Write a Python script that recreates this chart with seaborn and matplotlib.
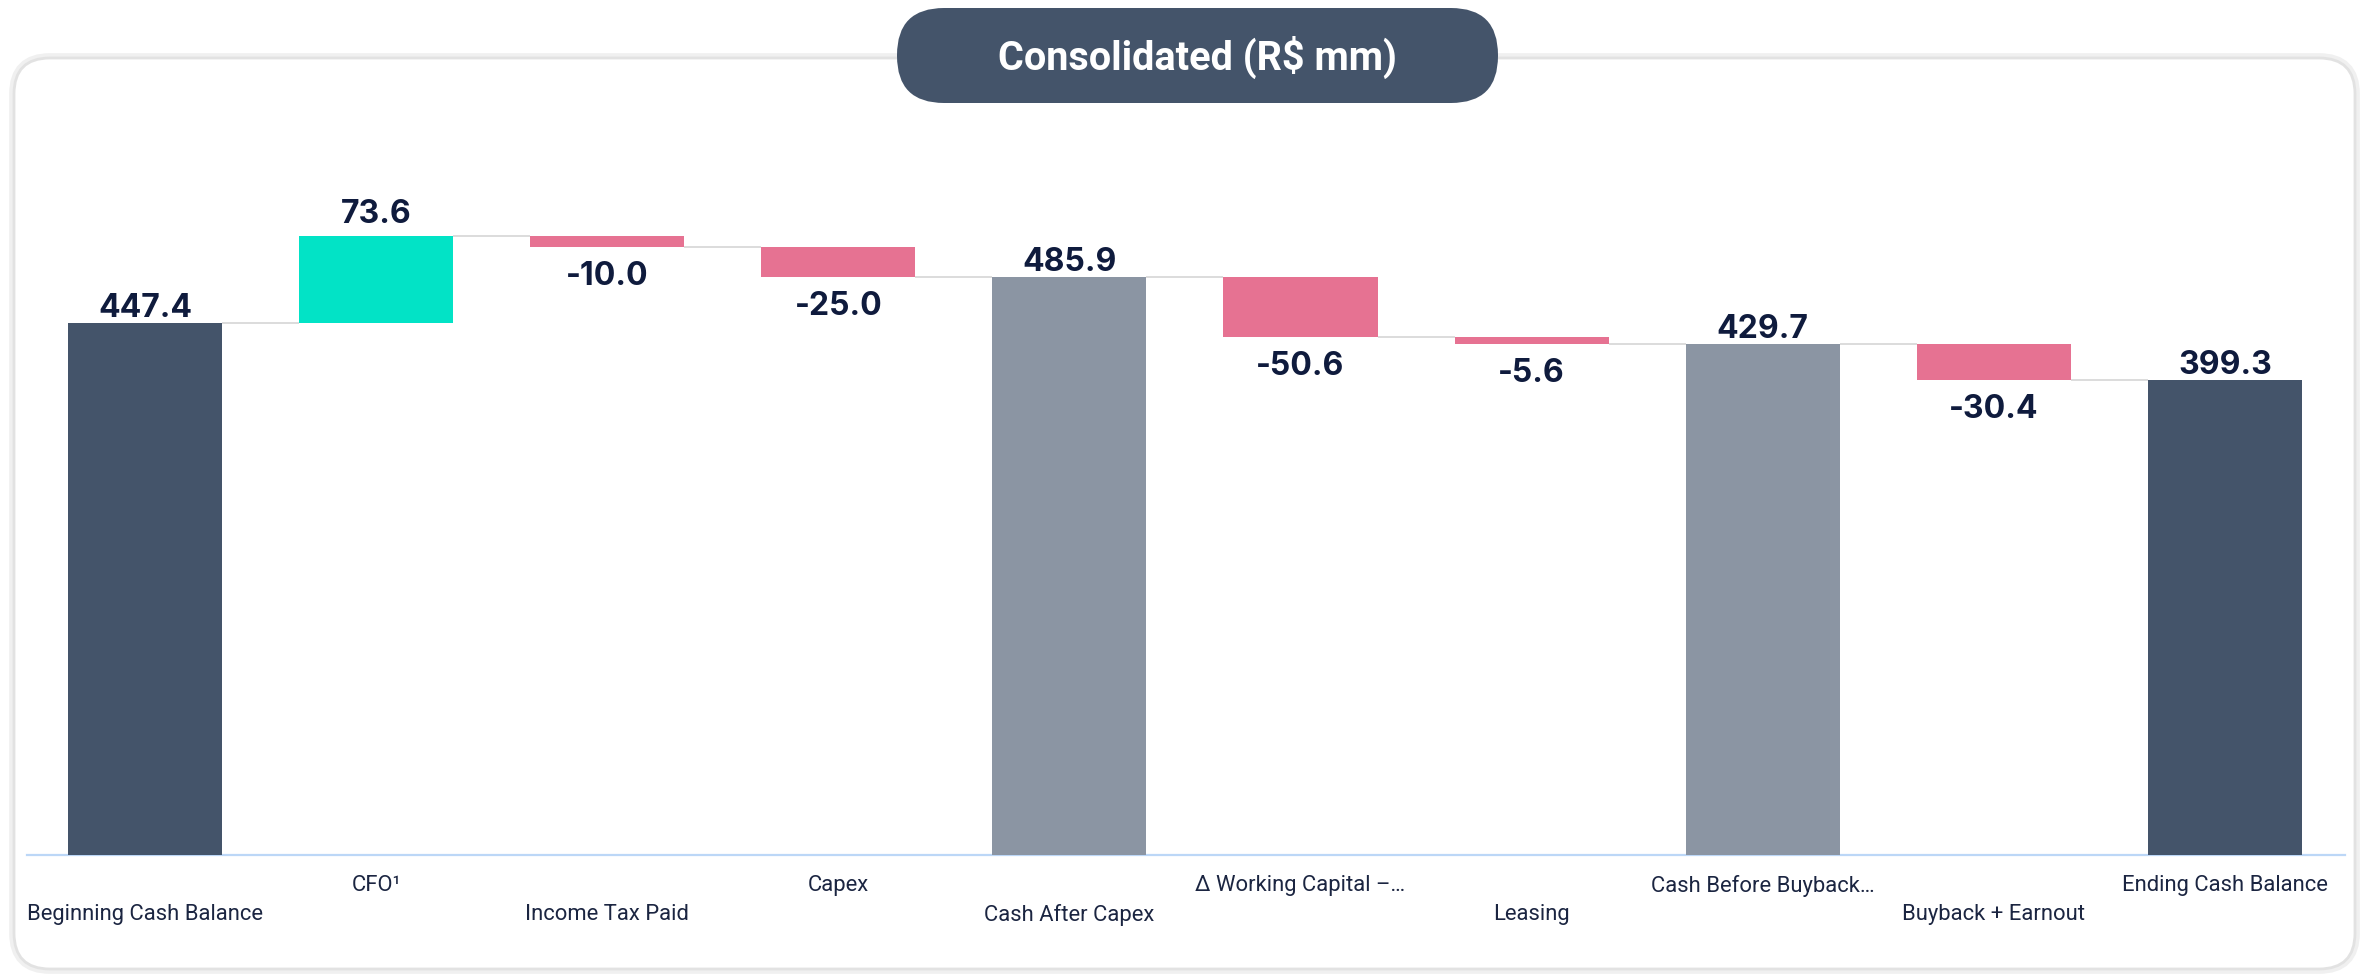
import numpy as np
import pandas as pd
import matplotlib
matplotlib.use("Agg")
import matplotlib.pyplot as plt
import seaborn as sns
from matplotlib.patches import FancyBboxPatch

# ---- data ----
categories = ["Beginning Cash Balance", "CFO¹", "Income Tax Paid", "Capex",
              "Cash After Capex", "Δ Working Capital –…", "Leasing",
              "Cash Before Buyback…", "Buyback + Earnout", "Ending Cash Balance"]
values = [447.4, 73.6, -10.0, -25.0, 485.9, -50.6, -5.6, 429.7, -30.4, 399.3]
kinds = ["total", "delta", "delta", "delta", "subtotal", "delta", "delta",
         "subtotal", "delta", "total"]
title = "Consolidated (R$ mm)"

# ---- style ----
sns.set_theme(style="white")
plt.rcParams["font.family"] = ["Roboto", "DejaVu Sans"]

COL = {"total": "#44546a", "subtotal": "#8b95a3", "pos": "#02e3c6", "neg": "#e67292"}
TXT = "#0f1b3d"
BAR_W = 0.667

# waterfall geometry derived from the values
running = 0.0
bottoms, heights, levels, colors = [], [], [], []
for v, k in zip(values, kinds):
    if k == "delta":
        start, end = running, running + v
        bottoms.append(min(start, end))
        heights.append(abs(v))
        running = end
        colors.append(COL["pos"] if v >= 0 else COL["neg"])
    else:
        bottoms.append(0.0)
        heights.append(v)
        running = v
        colors.append(COL[k])
    levels.append(running)

df = pd.DataFrame({"category": categories, "height": heights})

W, H = 2372, 975
fig = plt.figure(figsize=(W / 100, H / 100), dpi=100)
fig.patch.set_facecolor("white")

# background card + title pill (pixel coordinates)
bg = fig.add_axes([0, 0, 1, 1], zorder=0)
bg.set_xlim(0, W)
bg.set_ylim(H, 0)
bg.axis("off")
bg.add_patch(FancyBboxPatch((14, 58), 2341, 911,
                            boxstyle="round,pad=0,rounding_size=36",
                            fc="white", ec="#f0f0f0", lw=7))
bg.add_patch(FancyBboxPatch((14, 58), 2341, 911,
                            boxstyle="round,pad=0,rounding_size=36",
                            fc="white", ec="#e2e2e2", lw=2))
bg.add_patch(FancyBboxPatch((897, 8), 601, 95,
                            boxstyle="round,pad=0,rounding_size=47",
                            fc="#44546a", ec="none"))
bg.text(1197, 57, title, color="white", fontsize=28.5, fontweight="bold",
        ha="center", va="center", family=["Roboto", "DejaVu Sans"])

# main chart axes
left_px, right_px, base_px, top_px = 27, 2345, 855, 100
ax = fig.add_axes([left_px / W, (H - base_px) / H,
                   (right_px - left_px) / W, (base_px - top_px) / H], zorder=1)
ax.patch.set_alpha(0)

sns.barplot(data=df, x="category", y="height", bottom=bottoms, width=BAR_W,
            color=COL["total"], saturation=1, errorbar=None, ax=ax, zorder=3)
for patch, c in zip(ax.patches, colors):
    patch.set_facecolor(c)
    patch.set_edgecolor("none")

ax.set_xlim(-0.511, 9.52)
ax.set_ylim(0, (base_px - top_px) / 1.189)

# connectors
for i in range(len(values) - 1):
    ax.plot([i + BAR_W / 2, i + 1 - BAR_W / 2], [levels[i], levels[i]],
            color="#d9d9d9", lw=1.3, zorder=2, solid_capstyle="butt")

# value labels
for i, (v, k) in enumerate(zip(values, kinds)):
    if k != "delta":
        y, off, = bottoms[i] + heights[i], 10.5
    elif v >= 0:
        y, off = bottoms[i] + heights[i], 15
    else:
        y, off = bottoms[i], -21
    ax.annotate(f"{v:.1f}", (i, y), xytext=(0, off), textcoords="offset points",
                ha="center", va="center", fontsize=23, fontweight="bold",
                color=TXT, family=["Inter", "DejaVu Sans"])

# axes styling
for s in ["top", "right", "left"]:
    ax.spines[s].set_visible(False)
ax.spines["bottom"].set_color("#bcd7f7")
ax.spines["bottom"].set_linewidth(1.6)
ax.set_yticks([])
ax.set_xlabel("")
ax.set_ylabel("")
ax.set_xticks(range(len(categories)))
ax.set_xticklabels(categories, fontsize=15.8, color="#1b2541")
ax.tick_params(axis="x", length=0)
for i, tick in enumerate(ax.xaxis.get_major_ticks()):
    tick.set_pad(14.5 if i % 2 == 1 else 35.5)

fig.savefig("out.png", dpi=100, facecolor="white")
